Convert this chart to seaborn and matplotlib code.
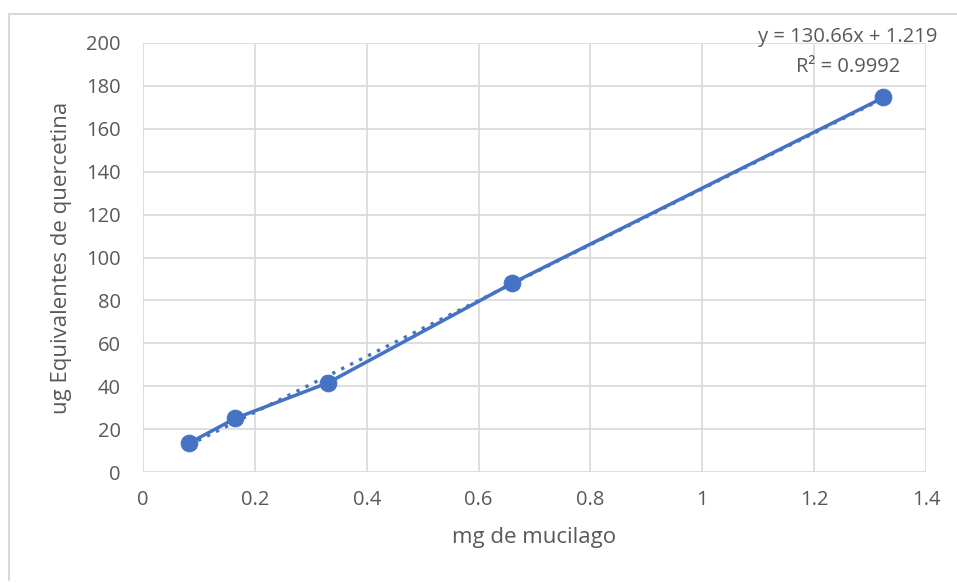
import numpy as np
import pandas as pd
import matplotlib
matplotlib.use("Agg")
import matplotlib.pyplot as plt
from matplotlib.lines import Line2D
import seaborn as sns

# data
mg_mucilago = [0.0825, 0.165, 0.33, 0.66, 1.324]
ug_quercetina = [13.5, 25.0, 41.5, 88.0, 174.6]
x_ticks = [0, 0.2, 0.4, 0.6, 0.8, 1, 1.2, 1.4]
x_tick_labels = ["0", "0.2", "0.4", "0.6", "0.8", "1", "1.2", "1.4"]
y_ticks = [0, 20, 40, 60, 80, 100, 120, 140, 160, 180, 200]
eq_text = "y = 130.66x + 1.219"
r2_text = "R² = 0.9992"

df = pd.DataFrame({"mg": mg_mucilago, "ug": ug_quercetina})

sns.set_style("white")
plt.rcParams["font.family"] = ["Open Sans", "DejaVu Sans"]

blue = "#4472C4"
grid = "#D9D9D9"
txt = "#595959"

fig = plt.figure(figsize=(9.57, 5.83), dpi=100)
ax = fig.add_axes([143 / 957, 1 - 472 / 583, (926 - 143) / 957, (472 - 43) / 583])

# dotted linear trendline
sns.regplot(data=df, x="mg", y="ug", scatter=False, ci=None, ax=ax,
            line_kws=dict(color=blue, lw=2.4, linestyle=(0, (1, 2.0))))
# series line with markers
sns.lineplot(data=df, x="mg", y="ug", color=blue, lw=2.5, marker="o",
             markersize=12, markeredgecolor=blue, ax=ax, sort=False)

ax.set_xlim(0, 1.4)
ax.set_ylim(0, 200)
ax.set_xticks(x_ticks)
ax.set_xticklabels(x_tick_labels)
ax.set_yticks(y_ticks)
ax.grid(True, color=grid, lw=1.2)
ax.set_axisbelow(True)
for s in ax.spines.values():
    s.set_visible(False)
ax.tick_params(axis="both", length=0, labelsize=14.5, colors=txt)
ax.tick_params(axis="y", pad=16)
ax.tick_params(axis="x", pad=13)
ax.set_xlabel("mg de mucilago", fontsize=16, color=txt, labelpad=12)
ax.set_ylabel("ug Equivalentes de quercetina", fontsize=16, color=txt, labelpad=10)

fig.text(848 / 957, 1 - 37 / 583, eq_text, ha="center", va="center", fontsize=14.5, color=txt)
fig.text(848 / 957, 1 - 67 / 583, r2_text, ha="center", va="center", fontsize=14.5, color=txt)

# chart area border
fig.add_artist(Line2D([9 / 957, 1], [1 - 14 / 583, 1 - 14 / 583], color=grid, lw=1.5,
                      transform=fig.transFigure))
fig.add_artist(Line2D([9 / 957, 9 / 957], [1 - 14 / 583, 1 - 580 / 583], color=grid, lw=1.5,
                      transform=fig.transFigure))

fig.savefig("out.png", dpi=100)
